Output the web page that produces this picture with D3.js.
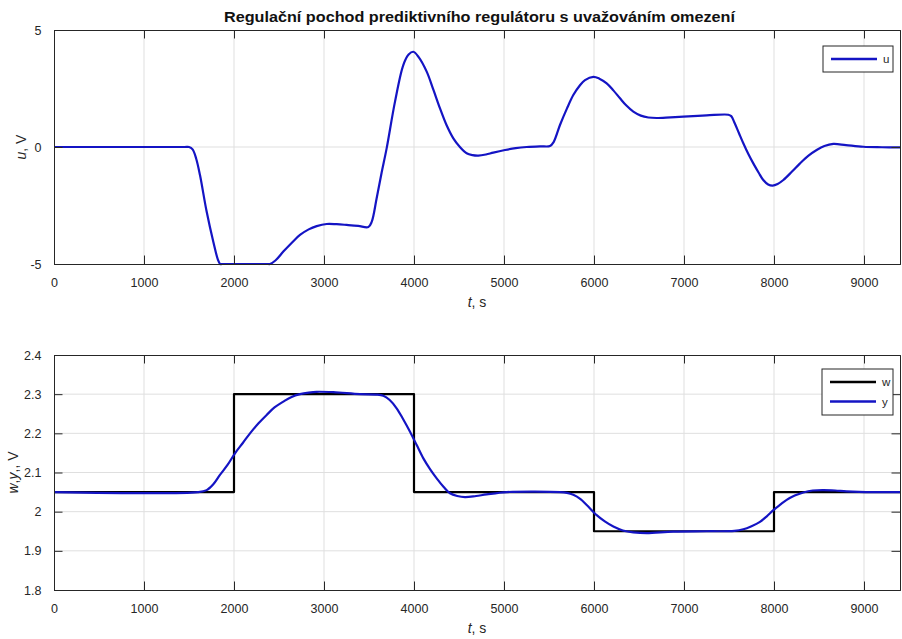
<!DOCTYPE html>
<html><head><meta charset="utf-8">
<script src="https://cdn.jsdelivr.net/npm/d3@7"></script>
<style>
body{margin:0;background:#fff;}
svg{display:block;font-family:"Liberation Sans",Arial,sans-serif;}
</style></head>
<body>
<svg id="c" width="902" height="639"></svg>
<script>
// ---- data ----
const titleText = "Regulační pochod prediktivního regulátoru s uvažováním omezení";
const xTicks = [0,1000,2000,3000,4000,5000,6000,7000,8000,9000];
const uTicks = [-5,0,5];
const yTicks = [1.8,1.9,2,2.1,2.2,2.3,2.4];
const uT = [0,1450,1500,1540,1580,1622,1696,1770,1820,1845,1870,2380,2400,2460,2548,2640,2733,2830,2919,3030,3140,3252,3380,3493,3530,3585,3640,3696,3789,3881,3940,3993,4050,4141,4215,4289,4360,4437,4510,4585,4650,4715,4800,4881,5011,5130,5252,5400,5511,5550,5622,5700,5770,5840,5900,5993,6060,6141,6215,6289,6360,6437,6520,6604,6696,6850,6993,7252,7493,7525,7560,7610,7659,7715,7770,7830,7881,7935,7985,8040,8104,8200,8289,8380,8474,8560,8659,8800,8993,9200,9400];
const uV = [0,0,0,-0.1,-0.5,-1.2,-2.76,-4.05,-4.8,-5,-5,-5,-5,-4.85,-4.47,-4.1,-3.76,-3.52,-3.38,-3.29,-3.3,-3.33,-3.37,-3.42,-3.2,-2.19,-1.1,-0.06,1.94,3.5,3.95,4.07,3.85,3.22,2.45,1.65,0.95,0.37,0.0,-0.27,-0.35,-0.37,-0.32,-0.24,-0.13,-0.05,0,0.03,0.04,0.2,0.94,1.65,2.22,2.62,2.86,3.0,2.92,2.72,2.42,2.08,1.77,1.51,1.34,1.26,1.24,1.27,1.3,1.35,1.38,1.32,1.05,0.6,0.16,-0.3,-0.7,-1.1,-1.41,-1.6,-1.65,-1.58,-1.41,-1.05,-0.7,-0.38,-0.13,0.04,0.13,0.08,0.01,-0.01,-0.02];
const wT = [0,2000,4000,6000,8000,9400];
const wV = [2.05,2.3,2.05,1.95,2.05,2.05];
const yT = [0,1600,1696,1770,1844,1930,2011,2100,2178,2270,2363,2450,2548,2640,2733,2830,2919,3104,3400,3580,3659,3730,3807,3880,3956,4030,4104,4180,4252,4330,4400,4480,4567,4690,4807,5030,5622,5700,5770,5850,5919,6030,6120,6215,6320,6437,6585,6881,7252,7560,7659,7750,7844,7920,7993,8070,8141,8230,8326,8430,8548,8680,8807,9104,9400];
const yV = [2.05,2.05,2.055,2.07,2.094,2.12,2.149,2.176,2.2,2.225,2.247,2.266,2.281,2.293,2.3,2.304,2.306,2.305,2.3,2.299,2.296,2.285,2.264,2.236,2.204,2.17,2.136,2.108,2.085,2.063,2.047,2.04,2.037,2.04,2.044,2.05,2.05,2.048,2.043,2.032,2.017,1.991,1.975,1.962,1.952,1.947,1.945,1.949,1.95,1.951,1.955,1.963,1.974,1.988,2.004,2.018,2.03,2.041,2.049,2.054,2.055,2.054,2.052,2.05,2.05];

const svg = d3.select("#c");
const AX = "#262626", GRID = "#dfdfdf", BLUE = "#1414c4", FONT = 12.5;

svg.append("text").attr("x",479.5).attr("y",22).attr("text-anchor","middle")
  .attr("font-weight","bold").attr("font-size",15.5).attr("fill","#111")
  .attr("textLength",511).attr("lengthAdjust","spacingAndGlyphs").text(titleText);

function panel(top, bottom, yDomain, yTickVals, series, legend, ylabel, ylabelX){
  const x = d3.scaleLinear().domain([0,9400]).range([54,900]);
  const y = d3.scaleLinear().domain(yDomain).range([bottom, top]);
  const g = svg.append("g");
  // grid
  g.selectAll(".gx").data(xTicks.filter(d=>d>0)).join("line")
    .attr("x1",d=>x(d)).attr("x2",d=>x(d)).attr("y1",top).attr("y2",bottom)
    .attr("stroke",GRID).attr("stroke-width",1);
  g.selectAll(".gy").data(yTickVals.slice(1,-1)).join("line")
    .attr("y1",d=>y(d)).attr("y2",d=>y(d)).attr("x1",54).attr("x2",900)
    .attr("stroke",GRID).attr("stroke-width",1);
  // series
  const clip = "clip"+top;
  svg.append("clipPath").attr("id",clip).append("rect").attr("x",54).attr("y",top-2).attr("width",846).attr("height",bottom-top+4);
  series.forEach(s=>{
    const data = s.t.map((t,i)=>[t,s.v[i]]);
    g.append("path").datum(data).attr("clip-path",`url(#${clip})`)
      .attr("d", d3.line().x(d=>x(d[0])).y(d=>y(d[1])).curve(s.curve))
      .attr("fill","none").attr("stroke",s.color).attr("stroke-width",2.2).attr("stroke-linejoin","round");
  });
  // axes (ticks inward)
  const tl = 8.5;
  const xb = d3.axisBottom(x).tickValues(xTicks).tickSize(-tl).tickPadding(tl+6).tickFormat(d3.format("d"));
  const xt = d3.axisTop(x).tickValues(xTicks).tickSize(-tl).tickFormat("");
  const yl = d3.axisLeft(y).tickValues(yTickVals).tickSize(-tl).tickPadding(tl+4).tickFormat(d=>String(+d.toFixed(2)));
  const yr = d3.axisRight(y).tickValues(yTickVals).tickSize(-tl).tickFormat("");
  [[xb,`translate(0,${bottom})`],[xt,`translate(0,${top})`],[yl,`translate(54,0)`],[yr,`translate(900,0)`]].forEach(([a,tr])=>{
    const ag = g.append("g").attr("transform",tr).call(a);
    ag.select(".domain").attr("stroke",AX);
    ag.selectAll(".tick line").attr("stroke",AX);
    ag.selectAll("text").attr("fill",AX).attr("font-size",FONT).attr("font-family","\"Liberation Sans\",Arial,sans-serif");
  });
  // x label
  const xl = g.append("text").attr("x",477).attr("y",bottom+43).attr("text-anchor","middle")
    .attr("font-size",14).attr("fill",AX);
  xl.append("tspan").attr("font-style","italic").text("t");
  xl.append("tspan").text(", s");
  // y label
  const ylab = g.append("text").attr("transform",`translate(${ylabelX},${(top+bottom)/2}) rotate(-90)`)
    .attr("text-anchor","middle").attr("font-size",14).attr("fill",AX);
  ylabel.forEach(p=>ylab.append("tspan").attr("font-style",p[1]?"italic":"normal").text(p[0]));
  // legend
  const lg = g.append("g");
  lg.append("rect").attr("x",legend.x).attr("y",legend.y).attr("width",legend.w).attr("height",legend.h)
    .attr("fill","#fff").attr("stroke",AX).attr("stroke-width",1);
  legend.items.forEach((it,i)=>{
    const yy = legend.y + 13 + i*19.5;
    lg.append("line").attr("x1",legend.x+8).attr("x2",legend.x+54).attr("y1",yy).attr("y2",yy)
      .attr("stroke",it.color).attr("stroke-width",2.5);
    lg.append("text").attr("x",legend.x+60).attr("y",yy+4).attr("font-size",11.5).attr("fill",AX).text(it.name);
  });
}

panel(30, 264, [-5,5], uTicks,
  [{t:uT, v:uV, color:BLUE, curve:d3.curveCatmullRom.alpha(0.5)}],
  {x:823,y:46,w:70,h:26,items:[{name:"u",color:BLUE}]},
  [["u",true],[", V",false]], 26);

panel(355, 590, [1.8,2.4], yTicks,
  [{t:wT, v:wV, color:"#000", curve:d3.curveStepAfter},{t:yT, v:yV, color:BLUE, curve:d3.curveCatmullRom.alpha(0.5)}],
  {x:822,y:369,w:71,h:46,items:[{name:"w",color:"#000"},{name:"y",color:BLUE}]},
  [["w",true],[",",false],["y",true],[",, V",false]], 18);
</script>
</body></html>
